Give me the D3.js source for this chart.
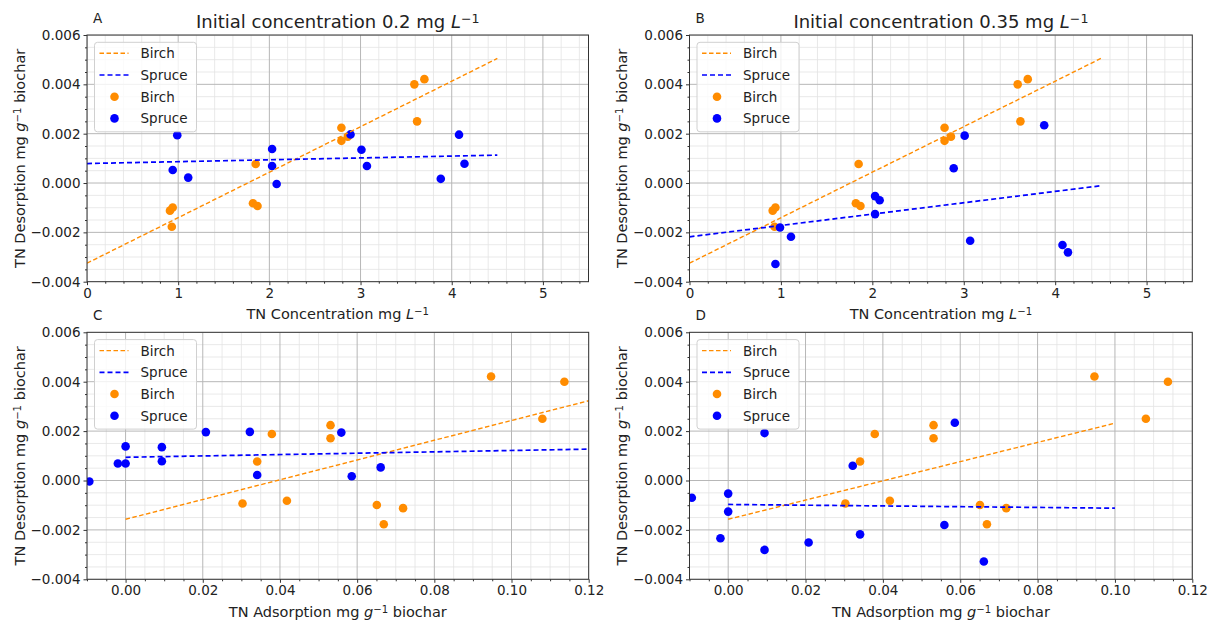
<!DOCTYPE html>
<html>
<head>
<meta charset="utf-8">
<script src="https://cdn.jsdelivr.net/npm/d3@7"></script>
<style>
  body { margin: 0; background: #fff; }
  svg { font-family: "DejaVu Sans", sans-serif; }
</style>
</head>
<body>
<svg id="chart" width="1214" height="621"></svg>
<script>
// tick labels
const concTicks = [0, 1, 2, 3, 4, 5];
const adsTicks = [0, 0.02, 0.04, 0.06, 0.08, 0.10, 0.12];
const desTicks = [-0.004, -0.002, 0, 0.002, 0.004, 0.006];

// measured values (same sample order in every array of one species)
const birchConc = [0.91, 0.94, 0.93, 1.85, 1.82, 1.87, 2.79, 2.79, 2.86, 3.59, 3.70, 3.62];
const birchAds = [0.0719, 0.0651, 0.0669, 0.0341, 0.0418, 0.0303, 0.0531, 0.0531, 0.0379, 0.1137, 0.0947, 0.1080];
const birchDes = [-0.00112, -0.00099, -0.00177, 0.00077, -0.00082, -0.00093, 0.00224, 0.00171, 0.00188, 0.00400, 0.00421, 0.00250];

const spruceConc = [0.99, 0.94, 1.11, 2.03, 2.03, 2.08, 2.89, 3.01, 3.07, 3.88, 4.08, 4.14];
const spruceAds = [0.0559, 0.0661, 0.0341, 0.0, 0.0, -0.0094, 0.0322, 0.0094, -0.0020, 0.0586, 0.0208, 0.0094];
const spruceDesLow = [0.00194, 0.00053, 0.00022, 0.00138, 0.00069, -0.00004, 0.00197, 0.00135, 0.00069, 0.00017, 0.00196, 0.00078];
const spruceDesHigh = [-0.00180, -0.00328, -0.00218, -0.00053, -0.00126, -0.00070, 0.00060, 0.00192, -0.00234, 0.00234, -0.00251, -0.00281];

// fitted lines: [x start, x end], [y start, y end]
const birchFitConc = [[0, 4.5], [-0.00325, 0.00505]];
const spruceFitLow = [[0, 4.5], [0.00079, 0.00113]];
const spruceFitHigh = [[0, 4.5], [-0.00218, -0.00011]];
const birchFitAdsLow = [[0, 0.12], [-0.00157, 0.00323]];
const spruceFitAdsLow = [[0, 0.12], [0.00094, 0.00127]];
const birchFitAdsHigh = [[0, 0.10], [-0.00157, 0.00232]];
const spruceFitAdsHigh = [[0, 0.10], [-0.00097, -0.00112]];

const orange = "#ff8c00";
const blue = "#0000ff";
const tickFont = 13.5;
const labelFont = 14.5;

const panels = [
  { tag: "A", title: "0.2", box: [87, 35, 588.5, 281.7], xDomain: [0, 5.5], xTicks: concTicks, xMinor: 0.2, xFmt: d3.format("d"),
    xLabel: "conc", birch: [birchConc, birchDes], spruce: [spruceConc, spruceDesLow], fits: [birchFitConc, spruceFitLow] },
  { tag: "B", title: "0.35", box: [689.5, 35, 1192.3, 281.7], xDomain: [0, 5.5], xTicks: concTicks, xMinor: 0.2, xFmt: d3.format("d"),
    xLabel: "conc", birch: [birchConc, birchDes], spruce: [spruceConc, spruceDesHigh], fits: [birchFitConc, spruceFitHigh] },
  { tag: "C", title: null, box: [87, 332.3, 588.7, 579.3], xDomain: [-0.01, 0.12], xTicks: adsTicks, xMinor: 0.005, xFmt: d3.format(".2f"),
    xLabel: "ads", birch: [birchAds, birchDes], spruce: [spruceAds, spruceDesLow], fits: [birchFitAdsLow, spruceFitAdsLow] },
  { tag: "D", title: null, box: [689.5, 332.3, 1192.3, 579.3], xDomain: [-0.01, 0.12], xTicks: adsTicks, xMinor: 0.005, xFmt: d3.format(".2f"),
    xLabel: "ads", birch: [birchAds, birchDes], spruce: [spruceAds, spruceDesHigh], fits: [birchFitAdsHigh, spruceFitAdsHigh] }
];

const svg = d3.select("#chart");

// text with italic letter and superscript, parts: [text, italic, sup]
function richText(sel, parts) {
  parts.forEach(([t, italic, sup]) => {
    const ts = sel.append("tspan").text(t);
    if (italic) ts.attr("font-style", "italic");
    if (sup) ts.attr("font-size", "70%").attr("baseline-shift", "38%");
  });
  return sel;
}

panels.forEach((p, pi) => {
  const [left, top, right, bottom] = p.box;
  const x = d3.scaleLinear().domain(p.xDomain).range([left, right]);
  const y = d3.scaleLinear().domain([-0.004, 0.006]).range([bottom, top]);
  const g = svg.append("g");

  const clipId = "clip" + pi;
  g.append("clipPath").attr("id", clipId).append("rect")
    .attr("x", left).attr("y", top).attr("width", right - left).attr("height", bottom - top);

  // minor grid
  const xMinor = d3.range(p.xDomain[0], p.xDomain[1] + 1e-9, p.xMinor)
    .filter(v => !p.xTicks.some(t => Math.abs(t - v) < 1e-9));
  const yMinor = d3.range(-0.004, 0.006 + 1e-9, 0.0005)
    .filter(v => !desTicks.some(t => Math.abs(t - v) < 1e-9));
  const grid = g.append("g").attr("clip-path", `url(#${clipId})`);
  grid.selectAll(".mx").data(xMinor).join("line")
    .attr("x1", d => x(d)).attr("x2", d => x(d)).attr("y1", top).attr("y2", bottom)
    .attr("stroke", "#e3e3e3").attr("stroke-width", 0.8);
  grid.selectAll(".my").data(yMinor).join("line")
    .attr("x1", left).attr("x2", right).attr("y1", d => y(d)).attr("y2", d => y(d))
    .attr("stroke", "#e3e3e3").attr("stroke-width", 0.8);
  grid.selectAll(".Mx").data(p.xTicks).join("line")
    .attr("x1", d => x(d)).attr("x2", d => x(d)).attr("y1", top).attr("y2", bottom)
    .attr("stroke", "#b7b7b7").attr("stroke-width", 1);
  grid.selectAll(".My").data(desTicks).join("line")
    .attr("x1", left).attr("x2", right).attr("y1", d => y(d)).attr("y2", d => y(d))
    .attr("stroke", "#b7b7b7").attr("stroke-width", 1);

  // scatter points
  const plot = g.append("g").attr("clip-path", `url(#${clipId})`);
  [[p.birch, orange], [p.spruce, blue]].forEach(([[xs, ys], col]) => {
    plot.append("g").selectAll("circle").data(xs.map((v, i) => [v, ys[i]])).join("circle")
      .attr("cx", d => x(d[0])).attr("cy", d => y(d[1])).attr("r", 4.3).attr("fill", col);
  });

  // fitted dashed lines
  const line = d3.line().x(d => x(d[0])).y(d => y(d[1]));
  const [bf, sf] = p.fits;
  plot.append("path").datum(bf[0].map((v, i) => [v, bf[1][i]])).attr("d", line)
    .attr("fill", "none").attr("stroke", orange).attr("stroke-width", 1.4).attr("stroke-dasharray", "4.5,2.5");
  plot.append("path").datum(sf[0].map((v, i) => [v, sf[1][i]])).attr("d", line)
    .attr("fill", "none").attr("stroke", blue).attr("stroke-width", 1.7).attr("stroke-dasharray", "5,3");

  // axes
  const xAxis = g.append("g").attr("transform", `translate(0,${bottom})`)
    .call(d3.axisBottom(x).tickValues(p.xTicks).tickFormat(p.xFmt).tickSize(3.5).tickPadding(3));
  g.append("g").attr("transform", `translate(0,${bottom})`)
    .call(d3.axisBottom(x).tickValues(xMinor).tickFormat("").tickSize(2));
  const yAxis = g.append("g").attr("transform", `translate(${left},0)`)
    .call(d3.axisLeft(y).tickValues(desTicks).tickFormat(d3.format(".3f")).tickSize(3.5).tickPadding(3));
  g.append("g").attr("transform", `translate(${left},0)`)
    .call(d3.axisLeft(y).tickValues(yMinor).tickFormat("").tickSize(2));
  g.selectAll(".domain").remove();
  g.selectAll(".tick line").attr("stroke", "#333");
  g.selectAll(".tick text").attr("font-size", tickFont).attr("fill", "#222")
    .attr("font-family", "DejaVu Sans, sans-serif");

  g.append("rect").attr("x", left).attr("y", top).attr("width", right - left).attr("height", bottom - top)
    .attr("fill", "none").attr("stroke", "#333").attr("stroke-width", 1);

  // panel tag and title
  g.append("text").attr("x", left + 6).attr("y", top - 12).attr("font-size", 13.5).attr("fill", "#222").text(p.tag);
  if (p.title) {
    richText(g.append("text").attr("x", (left + right) / 2).attr("y", top - 7)
      .attr("text-anchor", "middle").attr("font-size", 18).attr("fill", "#222"),
      [["Initial concentration " + p.title + " mg "], ["L", true], ["\u22121", false, true]]);
  }

  // axis labels
  const xl = g.append("text").attr("x", (left + right) / 2).attr("y", bottom + 37.5)
    .attr("text-anchor", "middle").attr("font-size", labelFont).attr("fill", "#222");
  if (p.xLabel === "conc") richText(xl, [["TN Concentration mg "], ["L", true], ["\u22121", false, true]]);
  else richText(xl, [["TN Adsorption mg "], ["g", true], ["\u22121", false, true], [" biochar"]]);

  const ycx = left - 62.5, ycy = (top + bottom) / 2;
  richText(g.append("text").attr("transform", `translate(${ycx},${ycy}) rotate(-90)`)
    .attr("text-anchor", "middle").attr("font-size", labelFont).attr("fill", "#222"),
    [["TN Desorption mg "], ["g", true], ["\u22121", false, true], [" biochar"]]);

  // legend
  const lg = g.append("g").attr("transform", `translate(${left + 7.5},${top + 7.3})`);
  lg.append("rect").attr("width", 102).attr("height", 89.5).attr("rx", 3)
    .attr("fill", "#fff").attr("fill-opacity", 0.8).attr("stroke", "#d0d0d0").attr("stroke-width", 1);
  const entries = [["Birch", orange, "line"], ["Spruce", blue, "line"], ["Birch", orange, "dot"], ["Spruce", blue, "dot"]];
  entries.forEach(([name, col, kind], i) => {
    const cy = 11 + i * 21.7;
    if (kind === "line") {
      lg.append("line").attr("x1", 5).attr("x2", 34).attr("y1", cy).attr("y2", cy)
        .attr("stroke", col).attr("stroke-width", i === 0 ? 1.4 : 1.7)
        .attr("stroke-dasharray", i === 0 ? "4.5,2.5" : "5,3");
    } else {
      lg.append("circle").attr("cx", 20).attr("cy", cy).attr("r", 4.3).attr("fill", col);
    }
    lg.append("text").attr("x", 46).attr("y", cy + 5).attr("font-size", 13.5).attr("fill", "#222").text(name);
  });
});
</script>
</body>
</html>
